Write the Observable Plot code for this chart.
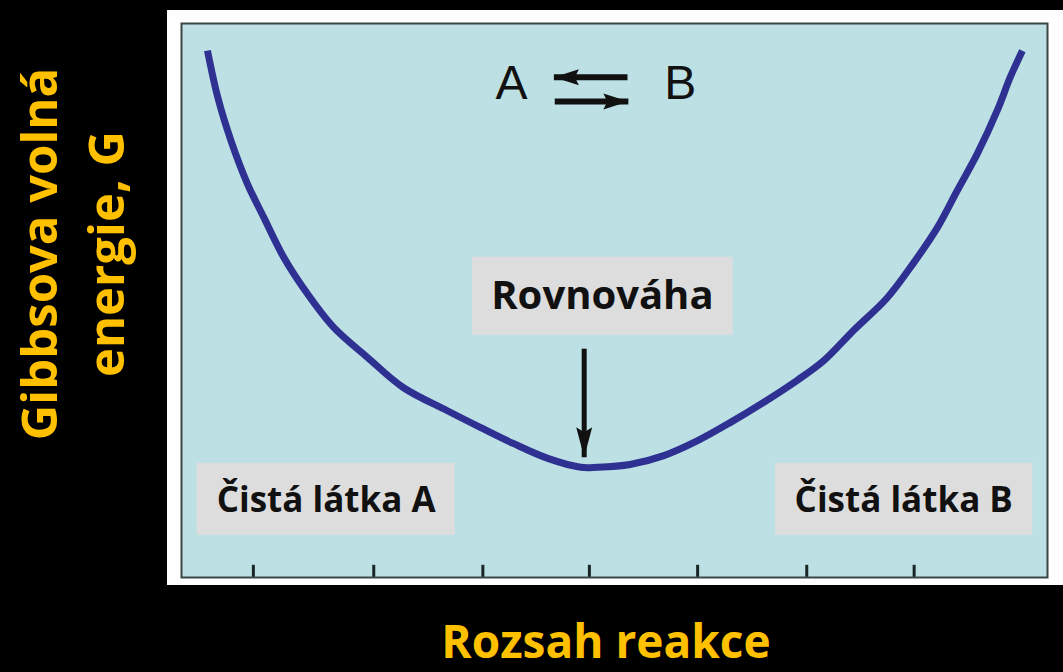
<!DOCTYPE html>
<html>
<head>
<meta charset="utf-8">
<script src="https://cdn.jsdelivr.net/npm/d3@7"></script>
<script src="https://cdn.jsdelivr.net/npm/@observablehq/plot@0.6"></script>
<style>
  html, body { margin: 0; padding: 0; background: #000; }
  #stage { position: relative; width: 1063px; height: 672px; overflow: hidden; background: #000; }
  #titles { position: absolute; left: 0; top: 0; }
  #panel { position: absolute; left: 167px; top: 10px; }
</style>
</head>
<body>
<div id="stage">
  <svg id="titles" width="1063" height="672"></svg>
  <div id="panel"></div>
</div>
<script>
// Gibbs free energy G along the extent of reaction A ⇌ B (arbitrary units, 0–100)
const extent = [3.0, 4.2, 5.7, 7.6, 9.5, 11.8, 14.5, 17.6, 21.5, 25.6, 30.7, 34.5, 38.3, 42.3, 46.1, 48.0, 51.8, 55.7, 59.6, 63.4, 67.2, 71.1, 74.2, 77.6, 81.5, 84.5, 87.3, 89.6, 91.9, 94.2, 95.7, 97.1];
const energy = [95.1, 86.6, 78.9, 71.1, 65.0, 57.8, 51.3, 45.1, 39.7, 34.3, 30.1, 27.1, 24.2, 21.5, 19.9, 19.9, 20.4, 22.0, 24.7, 28.0, 31.6, 35.6, 39.2, 44.6, 50.5, 56.7, 63.2, 69.9, 76.5, 84.3, 90.3, 95.1];

// tick positions along the reaction coordinate
const tickValues = [8.3, 22.2, 34.8, 47.1, 59.6, 72.2, 84.6];

// annotation boxes
const boxText = ["Rovnováha", "Čistá látka A", "Čistá látka B"];
const boxX1 = [33.6, 1.8, 68.6];
const boxX2 = [63.7, 31.6, 98.3];
const boxY1 = [43.7, 7.6, 7.6];
const boxY2 = [57.8, 20.6, 20.6];
const boxTextX = [48.6, 16.7, 83.4];
const boxTextY = [50.7, 13.8, 13.8];
const boxTextSize = [40, 35, 35];

// reaction scheme A ⇌ B
const species = ["A", "B"];
const speciesX = [38.1, 57.6];
const speciesY = [89.2, 89.2];
const schemeX1 = [51.5, 43.1];
const schemeX2 = [43.0, 51.6];
const schemeY = [90.3, 85.9];
const schemeDir = [270, 90];

// equilibrium pointer
const eqX = [46.5];
const eqY1 = [41.3];
const eqY2 = [21.7];

// axis titles
const yTitle = ["Gibbsova volná", "energie, G"];
const xTitle = "Rozsah reakce";

const curve = extent.map((x, i) => ({x, g: energy[i]}));
const boxes = boxText.map((t, i) => ({t, x1: boxX1[i], x2: boxX2[i], y1: boxY1[i], y2: boxY2[i], tx: boxTextX[i], ty: boxTextY[i], size: boxTextSize[i]}));
const spec = species.map((s, i) => ({s, x: speciesX[i], y: speciesY[i]}));
const scheme = schemeX1.map((x1, i) => ({x1, x2: schemeX2[i], y: schemeY[i], dir: schemeDir[i]}));
const eq = eqX.map((x, i) => ({x, y1: eqY1[i], y2: eqY2[i], dir: 180}));

// slender, slightly notched arrowheads with the tip at the anchor, pointing up
const headSmall = {draw(ctx) { ctx.moveTo(0, 0); ctx.lineTo(-8, 25); ctx.lineTo(0, 21); ctx.lineTo(8, 25); ctx.closePath(); }};
const headLong = {draw(ctx) { ctx.moveTo(0, 0); ctx.lineTo(-8, 30); ctx.lineTo(0, 25); ctx.lineTo(8, 30); ctx.closePath(); }};

const chart = Plot.plot({
  width: 896,
  height: 575,
  marginLeft: 14,
  marginRight: 16,
  marginTop: 13,
  marginBottom: 8,
  style: {background: "#fefefe", overflow: "visible"},
  x: {domain: [0, 100], axis: null},
  y: {domain: [0, 100], axis: null},
  marks: [
    Plot.frame({fill: "#bce0e3", stroke: null}),
    Plot.rect(boxes, {x1: "x1", x2: "x2", y1: "y1", y2: "y2", fill: "#dddddd"}),
    ...boxes.map(b => Plot.text([b], {x: "tx", y: "ty", text: "t", fontFamily: "Open Sans", fontWeight: 700, fontSize: b.size, fill: "#111"})),
    Plot.text(spec, {x: "x", y: "y", text: "s", fontFamily: "Liberation Sans", fontSize: 48, fill: "#111"}),
    Plot.link(scheme, {x1: "x1", x2: "x2", y1: "y", y2: "y", stroke: "#111", strokeWidth: 6, strokeLinecap: "butt"}),
    Plot.dot(scheme, {x: "x2", y: "y", symbol: headSmall, rotate: "dir", fill: "#111", stroke: null}),
    Plot.link(eq, {x1: "x", x2: "x", y1: "y1", y2: "y2", stroke: "#111", strokeWidth: 5, strokeLinecap: "butt"}),
    Plot.dot(eq, {x: "x", y: "y2", symbol: headLong, rotate: "dir", fill: "#111", stroke: null}),
    Plot.line(curve, {x: "x", y: "g", curve: "catmull-rom", stroke: "#2e3192", strokeWidth: 7, strokeLinecap: "butt"}),
    Plot.ruleX(tickValues, {y1: 0, y2: 2.2, stroke: "#1a2626", strokeWidth: 3}),
    Plot.frame({stroke: "#3a4646", strokeWidth: 2})
  ]
});
document.getElementById("panel").appendChild(chart);

// axis titles around the panel
const titles = d3.select("#titles");
const g = titles.append("g")
  .attr("font-family", "Open Sans")
  .attr("font-weight", 700)
  .attr("fill", "#ffc000");
const yLineX = [57, 124];
g.selectAll("text.yt").data(yTitle).join("text")
  .attr("class", "yt")
  .attr("transform", (d, i) => `translate(${yLineX[i]},254) rotate(-90)`)
  .attr("text-anchor", "middle")
  .attr("font-size", 49)
  .text(d => d);
g.append("text")
  .attr("x", 606)
  .attr("y", 658)
  .attr("text-anchor", "middle")
  .attr("font-size", 46)
  .text(xTitle);
</script>
</body>
</html>
